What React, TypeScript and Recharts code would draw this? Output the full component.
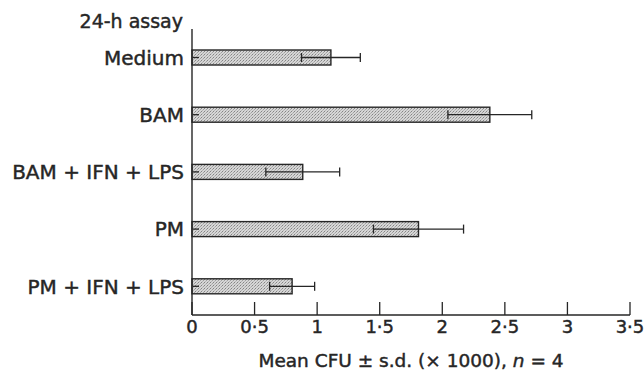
import React from 'react'
import { BarChart, Bar, XAxis, YAxis, ErrorBar } from 'recharts'

// 24-h assay, mean CFU (x 1000) +/- s.d., n = 4
const groups = ['Medium', 'BAM', 'BAM + IFN + LPS', 'PM', 'PM + IFN + LPS']
const meanCfu = [1.11, 2.38, 0.885, 1.81, 0.8]
const sdCfu = [0.235, 0.335, 0.295, 0.36, 0.18]
const xTicks = [0, 0.5, 1, 1.5, 2, 2.5, 3, 3.5]

const data = groups.map((group, i) => ({ group, mean: meanCfu[i], sd: sdCfu[i] }))

const FONT = '"DejaVu Sans", sans-serif'
const INK = '#262626'
// a thin outline makes DejaVu look closer to the medium weight of the scan
const heavy = { stroke: INK, strokeWidth: 0.45 }

// journal style decimal point
const fmt = (v: number) => String(v).replace('.', '\u00b7')

function XTick(props: any) {
  const { x, y, payload } = props
  return (
    <g>
      <line x1={x} y1={y} x2={x} y2={y - 13} stroke={INK} strokeWidth={1.3} />
      <text x={x} y={y + 18} textAnchor="middle" fontSize={18} fontFamily={FONT} fill={INK} {...heavy}>
        {fmt(payload.value)}
      </text>
    </g>
  )
}

function StippleBar(props: any) {
  const { x, y, width, height } = props
  const mid = y + height / 2
  return (
    <g>
      <rect x={x} y={y} width={width} height={height} fill="url(#stipple)" stroke={INK} strokeWidth={1.4} />
      <line x1={x + 1} y1={mid} x2={x + 7} y2={mid} stroke={INK} strokeWidth={1.3} />
    </g>
  )
}

export default function App() {
  return (
    <div style={{ position: 'absolute', left: 0, top: 0, width: 644, height: 377, background: '#fff' }}>
      <BarChart
        width={644}
        height={377}
        data={data}
        layout="vertical"
        margin={{ top: 29, right: 14, bottom: 0, left: 0 }}
      >
        <defs>
          <pattern id="stipple" width="3" height="3" patternUnits="userSpaceOnUse">
            <rect width="3" height="3" fill="#d6d6d6" />
            <rect x="0" y="0" width="1" height="1" fill="#858585" />
            <rect x="2" y="1" width="1" height="1" fill="#a0a0a0" />
            <rect x="1" y="2" width="1" height="1" fill="#b4b4b4" />
          </pattern>
        </defs>
        <XAxis
          type="number"
          domain={[0, 3.5]}
          ticks={xTicks}
          interval={0}
          height={62}
          tickSize={0}
          tickMargin={0}
          tickLine={false}
          axisLine={{ stroke: INK, strokeWidth: 1.4 }}
          tick={<XTick />}
        />
        <YAxis
          type="category"
          dataKey="group"
          width={192}
          interval={0}
          tickLine={false}
          axisLine={{ stroke: INK, strokeWidth: 1.4 }}
          tick={{ fontSize: 20, fontFamily: FONT, fill: INK, ...heavy }}
        />
        <Bar dataKey="mean" barSize={15} shape={<StippleBar />} isAnimationActive={false}>
          <ErrorBar dataKey="sd" direction="x" width={4.5} stroke={INK} strokeWidth={1.3} isAnimationActive={false} />
        </Bar>
      </BarChart>
      <svg
        width={644}
        height={377}
        style={{ position: 'absolute', left: 0, top: 0, pointerEvents: 'none' }}
      >
        <text x={183} y={28} textAnchor="end" fontSize={19} fontFamily={FONT} fill={INK} {...heavy}>
          24-h assay
        </text>
        <text x={411} y={366.5} textAnchor="middle" fontSize={18.5} fontFamily={FONT} fill={INK} {...heavy}>
          Mean CFU ± s.d. (× 1000), <tspan fontStyle="italic">n</tspan> = 4
        </text>
      </svg>
    </div>
  )
}
